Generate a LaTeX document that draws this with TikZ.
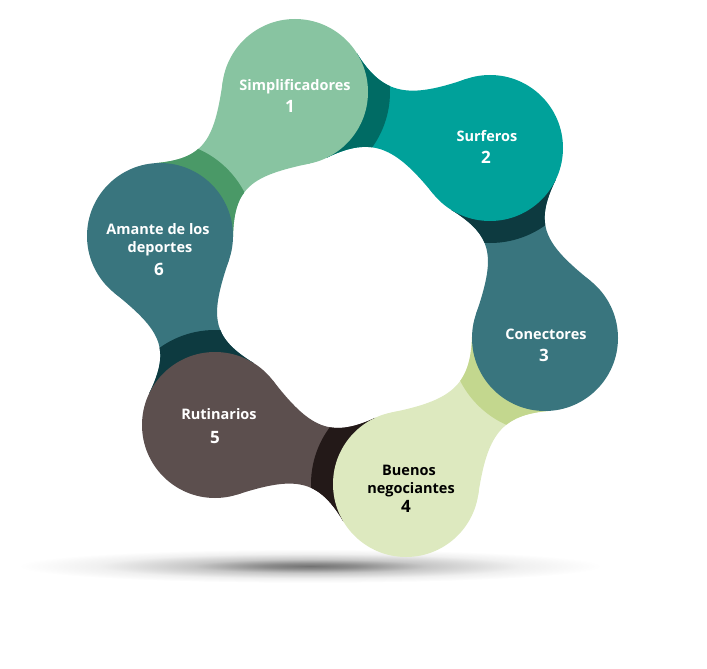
\documentclass[tikz,border=0pt]{standalone}
\usepackage{fontspec}
\setmainfont{Open Sans}
\usetikzlibrary{calc,shadings}
\definecolor{cA}{HTML}{88C4A1}\definecolor{bA}{HTML}{4A9967}
\definecolor{cB}{HTML}{00A19A}\definecolor{bB}{HTML}{006B64}
\definecolor{cC}{HTML}{39757E}\definecolor{bC}{HTML}{0D3A40}
\definecolor{cD}{HTML}{DDE9BF}\definecolor{bD}{HTML}{C3D78E}
\definecolor{cE}{HTML}{5C4F4E}\definecolor{bE}{HTML}{231918}
\definecolor{cF}{HTML}{39757E}\definecolor{bF}{HTML}{0D3A40}
\pgfdeclareradialshading{floorshadow}{\pgfpoint{0bp}{0bp}}{color(0bp)=(black!55); color(4bp)=(black!45); color(10bp)=(black!22); color(18bp)=(black!6); color(25bp)=(white); color(50bp)=(white)}
% neck from circle #1 (source) towards circle #2 (target)
\newcommand\drawneck[4]{%
  \fill[#4] ($(#1)!73pt!55:(#2)$) .. controls ($(#1)!94.5pt!15.6:(#2)$) and ($(#2)!88.5pt!-13.5:(#1)$) .. ($(#2)!73pt!-48:(#1)$)
     -- ($(#2)!73pt!48:(#1)$) .. controls ($(#2)!88.5pt!13.5:(#1)$) and ($(#1)!94.5pt!-15.6:(#2)$) .. ($(#1)!73pt!-55:(#2)$) -- cycle;
  \begin{scope}
  \clip ($(#1)!73pt!55:(#2)$) .. controls ($(#1)!94.5pt!15.6:(#2)$) and ($(#2)!88.5pt!-13.5:(#1)$) .. ($(#2)!73pt!-48:(#1)$)
     -- ($(#2)!73pt!48:(#1)$) .. controls ($(#2)!88.5pt!13.5:(#1)$) and ($(#1)!94.5pt!-15.6:(#2)$) .. ($(#1)!73pt!-55:(#2)$) -- cycle;
  \fill[#3] (#2) circle (95pt);
  \end{scope}}
\tikzset{
  lbl/.style={font=\bfseries\fontsize{14.5}{17}\selectfont, text=white, anchor=base, inner sep=0pt},
  num/.style={font=\bfseries\fontsize{17}{20}\selectfont, text=white, anchor=base, inner sep=0pt},
  ball/.style={radius=73pt}
}
\begin{document}
\begin{tikzpicture}[x=1pt,y=-1pt]
\useasboundingbox (0,0) rectangle (707,669);
% floor shadow
\shade[shading=floorshadow] (310,566) ellipse (292pt and 17pt);
% circle centres
\coordinate (c1) at (295,92);
\coordinate (c2) at (490,148);
\coordinate (c3) at (545,338);
\coordinate (c4) at (406,484);
\coordinate (c5) at (215,425);
\coordinate (c6) at (160,236);
% necks
\drawneck{c1}{c6}{bA}{cA}
\drawneck{c2}{c1}{bB}{cB}
\drawneck{c3}{c2}{bC}{cC}
\drawneck{c4}{c3}{bD}{cD}
\drawneck{c5}{c4}{bE}{cE}
\drawneck{c6}{c5}{bF}{cF}
% circles
\fill[cA] (c1) circle[ball];
\fill[cB] (c2) circle[ball];
\fill[cC] (c3) circle[ball];
\fill[cD] (c4) circle[ball];
\fill[cE] (c5) circle[ball];
\fill[cF] (c6) circle[ball];
% labels
\node[lbl] (t1) at (295,90) {Simplificadores};
\node[num] (n1) at (290,113) {1};
\node[lbl] (t2) at (487,141) {Surferos};
\node[num] (n2) at (486,163) {2};
\node[lbl] (t3) at (546,339) {Conectores};
\node[num] (n3) at (544,361) {3};
\node[lbl,text=black] (t4a) at (409,475) {Buenos};
\node[lbl,text=black] (t4b) at (411,493) {negociantes};
\node[num,text=black] (n4) at (406,512) {4};
\node[lbl] (t5) at (219,419) {Rutinarios};
\node[num] (n5) at (215,443) {5};
\node[lbl] (t6a) at (158,234) {Amante de los};
\node[lbl] (t6b) at (160,252) {deportes};
\node[num] (n6) at (159,275) {6};
\end{tikzpicture}
\end{document}
